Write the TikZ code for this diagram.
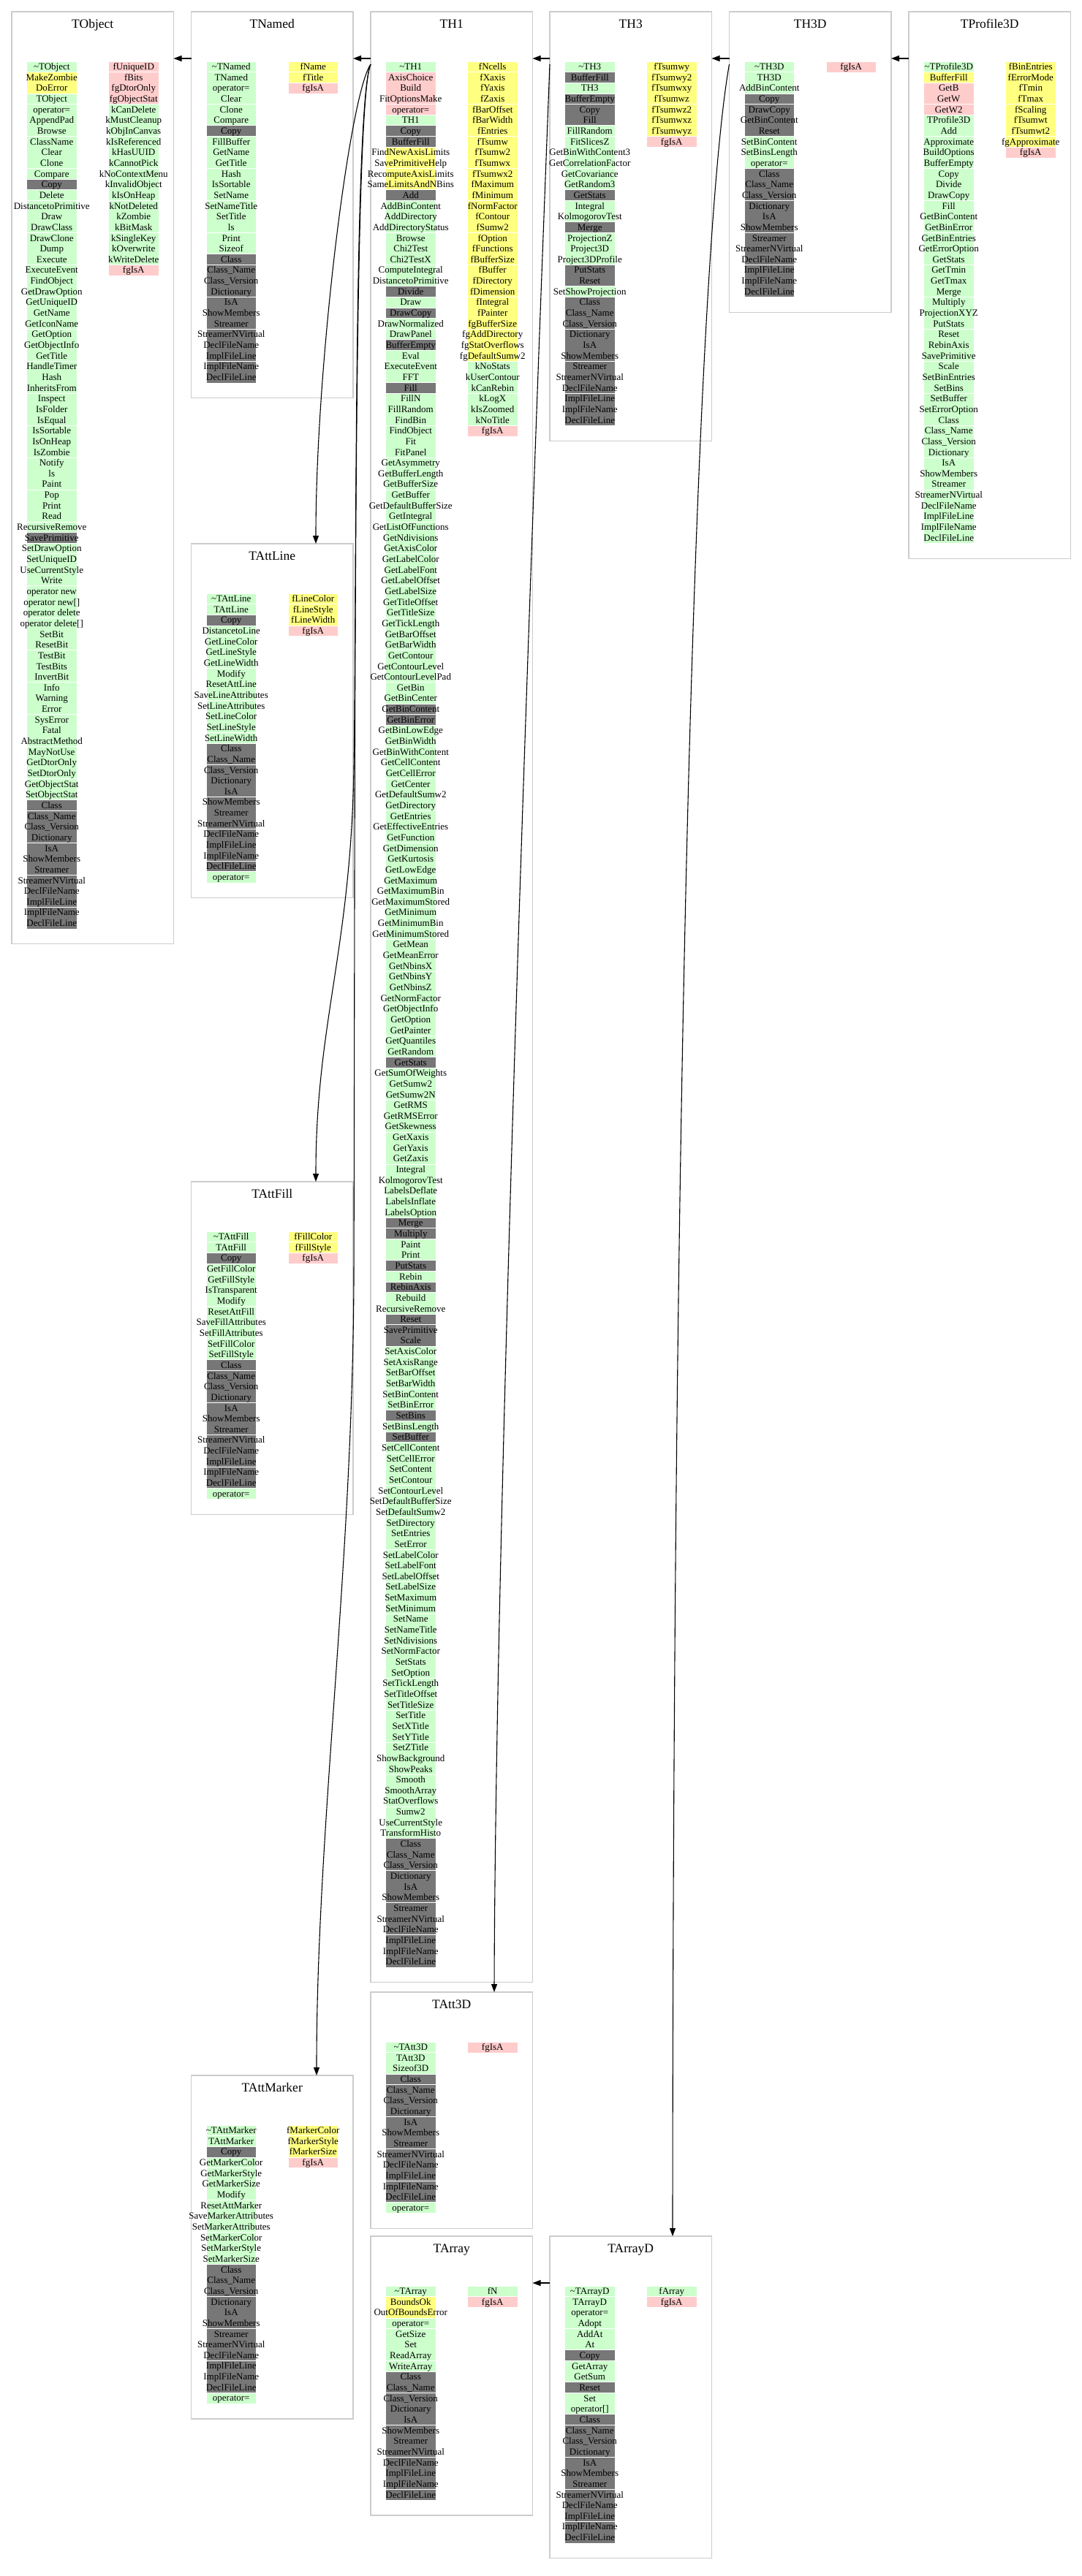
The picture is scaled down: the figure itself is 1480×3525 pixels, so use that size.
\documentclass[tikz,border=0pt]{standalone}
\usepackage{fontspec}
\setmainfont{Liberation Serif}
\usetikzlibrary{arrows.meta}
\definecolor{cg}{HTML}{CCFFCC}
\definecolor{cy}{HTML}{FFFF80}
\definecolor{cp}{HTML}{FFCCCC}
\definecolor{cd}{HTML}{777777}
\definecolor{boxgrey}{HTML}{CCCCCC}
\def\rh{14.65}
\newcommand\tl{\textasciitilde}
\newcommand\mlist[4]{%
  \gdef\prevc{none}%
  \foreach[count=\i] \rc/\rtext in {#4}{%
    \path[fill=c\rc] (#2,{#3+(\i-1)*\rh}) rectangle ({#2+67.5},{#3+\i*\rh});
    \edef\curc{\rc}%
    \ifx\curc\prevc\else
      \draw[sepline] (#2,{#3+(\i-1)*\rh}) -- ({#2+67.5},{#3+(\i-1)*\rh});
    \fi
    \xdef\prevc{\rc}%
    \node[rowtext] (#1-\i) at ({#2+33.75},{#3+(\i-0.5)*\rh}) {\rtext};
  }}
\newcommand\ctail[3]{\mlist{#1}{#2}{#3}{d/Class,d/Class\_Name,d/Class\_Version,d/Dictionary,d/IsA,d/ShowMembers,d/Streamer,d/StreamerNVirtual,d/DeclFileName,d/ImplFileLine,d/ImplFileName,d/DeclFileLine}}
\newcommand\seps[3]{%
  \foreach \k in {1,4,...,#3}{%
    \draw[sepline] (#1,{#2+\k*\rh}) -- ({#1+67.5},{#2+\k*\rh});
  }}
\newcommand\classbox[4]{%
  \pgfmathsetmacro\bh{89+#4*\rh}%
  \pgfmathsetmacro\btop{#3-68}%
  \node[cbox, minimum height=\bh pt, anchor=north west] (#1) at (#2,\btop) {};
  \node[ctitle] (#1-title) at ({#2+110.75},{\btop+17}) {#1};
}
\begin{document}
\begin{tikzpicture}[x=1pt,y=-1pt,
  cbox/.style={draw=boxgrey,line width=1.2pt,fill=white,minimum width=221.5pt,inner sep=0pt,outer sep=0pt},
  ctitle/.style={font=\fontsize{17.5}{18}\selectfont,inner sep=0pt,text height=11.6pt,text depth=0pt},
  rowtext/.style={font=\fontsize{13}{13}\selectfont,inner sep=0pt,text height=8.6pt,text depth=0pt},
  sepline/.style={draw=white,line width=0.9pt},
  inh/.style={draw=black,line width=1.1pt,-{Triangle[length=11pt,width=8pt]}}]
\useasboundingbox (0,0) rectangle (1480,3525);
\fill[white] (0,0) rectangle (1480,3525);

% class boxes
\classbox{TObject}{16}{84}{81}
\classbox{TNamed}{261.5}{84}{30}
\classbox{TH1}{507}{84}{178}
\classbox{TH3}{752}{84}{34}
\classbox{TH3D}{997.5}{84}{22}
\classbox{TProfile3D}{1243}{84}{45}
\classbox{TAttLine}{261.5}{812}{27}
\classbox{TAttFill}{261.5}{1685}{25}
\classbox{TAttMarker}{261.5}{2908}{26}
\classbox{TAtt3D}{507}{2794}{16}
\classbox{TArray}{507}{3128}{20}
\classbox{TArrayD}{752}{3128}{24}

% TObject
\mlist{TObject-m}{37}{84}{g/\tl TObject,y/MakeZombie,y/DoError,g/TObject,g/operator=,g/AppendPad,g/Browse,g/ClassName,g/Clear,g/Clone,g/Compare,d/Copy,g/Delete,g/DistancetoPrimitive,g/Draw,g/DrawClass,g/DrawClone,g/Dump,g/Execute,g/ExecuteEvent,g/FindObject,g/GetDrawOption,g/GetUniqueID,g/GetName,g/GetIconName,g/GetOption,g/GetObjectInfo,g/GetTitle,g/HandleTimer,g/Hash,g/InheritsFrom,g/Inspect,g/IsFolder,g/IsEqual,g/IsSortable,g/IsOnHeap,g/IsZombie,g/Notify,g/ls,g/Paint,g/Pop,g/Print,g/Read,g/RecursiveRemove,d/SavePrimitive,g/SetDrawOption,g/SetUniqueID,g/UseCurrentStyle,g/Write,g/operator new,g/operator new[],g/operator delete,g/operator delete[],g/SetBit,g/ResetBit,g/TestBit,g/TestBits,g/InvertBit,g/Info,g/Warning,g/Error,g/SysError,g/Fatal,g/AbstractMethod,g/MayNotUse,g/GetDtorOnly,g/SetDtorOnly,g/GetObjectStat,g/SetObjectStat}
\ctail{TObject-t}{37}{84+69*\rh}
\mlist{TObject-d}{149}{84}{p/fUniqueID,p/fBits,p/fgDtorOnly,p/fgObjectStat,g/kCanDelete,g/kMustCleanup,g/kObjInCanvas,g/kIsReferenced,g/kHasUUID,g/kCannotPick,g/kNoContextMenu,g/kInvalidObject,g/kIsOnHeap,g/kNotDeleted,g/kZombie,g/kBitMask,g/kSingleKey,g/kOverwrite,g/kWriteDelete,p/fgIsA}
\seps{37}{84}{80}
\seps{149}{84}{19}

% TNamed
\mlist{TNamed-m}{282.5}{84}{g/\tl TNamed,g/TNamed,g/operator=,g/Clear,g/Clone,g/Compare,d/Copy,g/FillBuffer,g/GetName,g/GetTitle,g/Hash,g/IsSortable,g/SetName,g/SetNameTitle,g/SetTitle,g/ls,g/Print,g/Sizeof}
\ctail{TNamed-t}{282.5}{84+18*\rh}
\mlist{TNamed-d}{394.5}{84}{y/fName,y/fTitle,p/fgIsA}
\seps{282.5}{84}{29}
\seps{394.5}{84}{2}

% TH1
\mlist{TH1-m}{528}{84}{g/\tl TH1,p/AxisChoice,p/Build,p/FitOptionsMake,p/operator=,g/TH1,d/Copy,d/BufferFill,y/FindNewAxisLimits,y/SavePrimitiveHelp,y/RecomputeAxisLimits,y/SameLimitsAndNBins,d/Add,g/AddBinContent,g/AddDirectory,g/AddDirectoryStatus,g/Browse,g/Chi2Test,g/Chi2TestX,g/ComputeIntegral,g/DistancetoPrimitive,d/Divide,g/Draw,d/DrawCopy,g/DrawNormalized,g/DrawPanel,d/BufferEmpty,g/Eval,g/ExecuteEvent,g/FFT,d/Fill,g/FillN,g/FillRandom,g/FindBin,g/FindObject,g/Fit,g/FitPanel,g/GetAsymmetry,g/GetBufferLength,g/GetBufferSize,g/GetBuffer,g/GetDefaultBufferSize,g/GetIntegral,g/GetListOfFunctions,g/GetNdivisions,g/GetAxisColor,g/GetLabelColor,g/GetLabelFont,g/GetLabelOffset,g/GetLabelSize,g/GetTitleOffset,g/GetTitleSize,g/GetTickLength,g/GetBarOffset,g/GetBarWidth,g/GetContour,g/GetContourLevel,g/GetContourLevelPad,g/GetBin,g/GetBinCenter,d/GetBinContent,d/GetBinError,g/GetBinLowEdge,g/GetBinWidth,g/GetBinWithContent,g/GetCellContent,g/GetCellError,g/GetCenter,g/GetDefaultSumw2,g/GetDirectory,g/GetEntries,g/GetEffectiveEntries,g/GetFunction,g/GetDimension,g/GetKurtosis,g/GetLowEdge,g/GetMaximum,g/GetMaximumBin,g/GetMaximumStored,g/GetMinimum,g/GetMinimumBin,g/GetMinimumStored,g/GetMean,g/GetMeanError,g/GetNbinsX,g/GetNbinsY,g/GetNbinsZ,g/GetNormFactor,g/GetObjectInfo,g/GetOption,g/GetPainter,g/GetQuantiles,g/GetRandom,d/GetStats,g/GetSumOfWeights,g/GetSumw2,g/GetSumw2N,g/GetRMS,g/GetRMSError,g/GetSkewness,g/GetXaxis,g/GetYaxis,g/GetZaxis,g/Integral,g/KolmogorovTest,g/LabelsDeflate,g/LabelsInflate,g/LabelsOption,d/Merge,d/Multiply,g/Paint,g/Print,d/PutStats,g/Rebin,d/RebinAxis,g/Rebuild,g/RecursiveRemove,d/Reset,d/SavePrimitive,d/Scale,g/SetAxisColor,g/SetAxisRange,g/SetBarOffset,g/SetBarWidth,g/SetBinContent,g/SetBinError,d/SetBins,g/SetBinsLength,d/SetBuffer,g/SetCellContent,g/SetCellError,g/SetContent,g/SetContour,g/SetContourLevel,g/SetDefaultBufferSize,g/SetDefaultSumw2,g/SetDirectory,g/SetEntries,g/SetError,g/SetLabelColor,g/SetLabelFont,g/SetLabelOffset,g/SetLabelSize,g/SetMaximum,g/SetMinimum,g/SetName,g/SetNameTitle,g/SetNdivisions,g/SetNormFactor,g/SetStats,g/SetOption,g/SetTickLength,g/SetTitleOffset,g/SetTitleSize,g/SetTitle,g/SetXTitle,g/SetYTitle,g/SetZTitle,g/ShowBackground,g/ShowPeaks,g/Smooth,g/SmoothArray,g/StatOverflows,g/Sumw2,g/UseCurrentStyle,g/TransformHisto}
\ctail{TH1-t}{528}{84+166*\rh}
\mlist{TH1-d}{640}{84}{y/fNcells,y/fXaxis,y/fYaxis,y/fZaxis,y/fBarOffset,y/fBarWidth,y/fEntries,y/fTsumw,y/fTsumw2,y/fTsumwx,y/fTsumwx2,y/fMaximum,y/fMinimum,y/fNormFactor,y/fContour,y/fSumw2,y/fOption,y/fFunctions,y/fBufferSize,y/fBuffer,y/fDirectory,y/fDimension,y/fIntegral,y/fPainter,y/fgBufferSize,y/fgAddDirectory,y/fgStatOverflows,y/fgDefaultSumw2,g/kNoStats,g/kUserContour,g/kCanRebin,g/kLogX,g/kIsZoomed,g/kNoTitle,p/fgIsA}
\seps{528}{84}{177}
\seps{640}{84}{34}

% TH3
\mlist{TH3-m}{773}{84}{g/\tl TH3,d/BufferFill,g/TH3,d/BufferEmpty,d/Copy,d/Fill,g/FillRandom,g/FitSlicesZ,g/GetBinWithContent3,g/GetCorrelationFactor,g/GetCovariance,g/GetRandom3,d/GetStats,g/Integral,g/KolmogorovTest,d/Merge,g/ProjectionZ,g/Project3D,g/Project3DProfile,d/PutStats,d/Reset,g/SetShowProjection}
\ctail{TH3-t}{773}{84+22*\rh}
\mlist{TH3-d}{885}{84}{y/fTsumwy,y/fTsumwy2,y/fTsumwxy,y/fTsumwz,y/fTsumwz2,y/fTsumwxz,y/fTsumwyz,p/fgIsA}
\seps{773}{84}{33}
\seps{885}{84}{7}

% TH3D
\mlist{TH3D-m}{1018.5}{84}{g/\tl TH3D,g/TH3D,g/AddBinContent,d/Copy,d/DrawCopy,d/GetBinContent,d/Reset,g/SetBinContent,g/SetBinsLength,g/operator=}
\ctail{TH3D-t}{1018.5}{84+10*\rh}
\mlist{TH3D-d}{1130.5}{84}{p/fgIsA}
\seps{1018.5}{84}{21}

% TProfile3D
\mlist{TProfile3D-m}{1264}{84}{g/\tl TProfile3D,y/BufferFill,p/GetB,p/GetW,p/GetW2,g/TProfile3D,g/Add,g/Approximate,g/BuildOptions,g/BufferEmpty,g/Copy,g/Divide,g/DrawCopy,g/Fill,g/GetBinContent,g/GetBinError,g/GetBinEntries,g/GetErrorOption,g/GetStats,g/GetTmin,g/GetTmax,g/Merge,g/Multiply,g/ProjectionXYZ,g/PutStats,g/Reset,g/RebinAxis,g/SavePrimitive,g/Scale,g/SetBinEntries,g/SetBins,g/SetBuffer,g/SetErrorOption,g/Class,g/Class\_Name,g/Class\_Version,g/Dictionary,g/IsA,g/ShowMembers,g/Streamer,g/StreamerNVirtual,g/DeclFileName,g/ImplFileLine,g/ImplFileName,g/DeclFileLine}
\mlist{TProfile3D-d}{1376}{84}{y/fBinEntries,y/fErrorMode,y/fTmin,y/fTmax,y/fScaling,y/fTsumwt,y/fTsumwt2,y/fgApproximate,p/fgIsA}
\seps{1264}{84}{44}
\seps{1376}{84}{8}

% TAttLine
\mlist{TAttLine-m}{282.5}{812}{g/\tl TAttLine,g/TAttLine,d/Copy,g/DistancetoLine,g/GetLineColor,g/GetLineStyle,g/GetLineWidth,g/Modify,g/ResetAttLine,g/SaveLineAttributes,g/SetLineAttributes,g/SetLineColor,g/SetLineStyle,g/SetLineWidth}
\ctail{TAttLine-t}{282.5}{812+14*\rh}
\mlist{TAttLine-o}{282.5}{812+26*\rh}{g/operator=}
\mlist{TAttLine-d}{394.5}{812}{y/fLineColor,y/fLineStyle,y/fLineWidth,p/fgIsA}
\seps{282.5}{812}{26}
\seps{394.5}{812}{3}

% TAttFill
\mlist{TAttFill-m}{282.5}{1685}{g/\tl TAttFill,g/TAttFill,d/Copy,g/GetFillColor,g/GetFillStyle,g/IsTransparent,g/Modify,g/ResetAttFill,g/SaveFillAttributes,g/SetFillAttributes,g/SetFillColor,g/SetFillStyle}
\ctail{TAttFill-t}{282.5}{1685+12*\rh}
\mlist{TAttFill-o}{282.5}{1685+24*\rh}{g/operator=}
\mlist{TAttFill-d}{394.5}{1685}{y/fFillColor,y/fFillStyle,p/fgIsA}
\seps{282.5}{1685}{24}
\seps{394.5}{1685}{2}

% TAttMarker
\mlist{TAttMarker-m}{282.5}{2908}{g/\tl TAttMarker,g/TAttMarker,d/Copy,g/GetMarkerColor,g/GetMarkerStyle,g/GetMarkerSize,g/Modify,g/ResetAttMarker,g/SaveMarkerAttributes,g/SetMarkerAttributes,g/SetMarkerColor,g/SetMarkerStyle,g/SetMarkerSize}
\ctail{TAttMarker-t}{282.5}{2908+13*\rh}
\mlist{TAttMarker-o}{282.5}{2908+25*\rh}{g/operator=}
\mlist{TAttMarker-d}{394.5}{2908}{y/fMarkerColor,y/fMarkerStyle,y/fMarkerSize,p/fgIsA}
\seps{282.5}{2908}{25}
\seps{394.5}{2908}{3}

% TAtt3D
\mlist{TAtt3D-m}{528}{2794}{g/\tl TAtt3D,g/TAtt3D,g/Sizeof3D}
\ctail{TAtt3D-t}{528}{2794+3*\rh}
\mlist{TAtt3D-o}{528}{2794+15*\rh}{g/operator=}
\mlist{TAtt3D-d}{640}{2794}{p/fgIsA}
\seps{528}{2794}{15}

% TArray
\mlist{TArray-m}{528}{3128}{g/\tl TArray,y/BoundsOk,y/OutOfBoundsError,g/operator=,g/GetSize,g/Set,g/ReadArray,g/WriteArray}
\ctail{TArray-t}{528}{3128+8*\rh}
\mlist{TArray-d}{640}{3128}{g/fN,p/fgIsA}
\seps{528}{3128}{19}

% TArrayD
\mlist{TArrayD-m}{773}{3128}{g/\tl TArrayD,g/TArrayD,g/operator=,g/Adopt,g/AddAt,g/At,d/Copy,g/GetArray,g/GetSum,d/Reset,g/Set,g/operator[]}
\ctail{TArrayD-t}{773}{3128+12*\rh}
\mlist{TArrayD-d}{885}{3128}{g/fArray,p/fgIsA}
\seps{773}{3128}{23}

% inheritance connectors
\draw[inh] ([yshift=-64pt]TNamed.north west) -- ([yshift=-64pt]TObject.north east);
\draw[inh] ([yshift=-64pt]TH1.north west) -- ([yshift=-64pt]TNamed.north east);
\draw[inh] ([yshift=-64pt]TH3.north west) -- ([yshift=-64pt]TH1.north east);
\draw[inh] ([yshift=-64pt]TH3D.north west) -- ([yshift=-64pt]TH3.north east);
\draw[inh] ([yshift=-64pt]TProfile3D.north west) -- ([yshift=-64pt]TH3D.north east);
\draw[inh] ([yshift=-64pt]TArrayD.north west) -- ([yshift=-64pt]TArray.north east);
\draw[inh] ([yshift=-72pt]TH1.north west) .. controls (478,130) and (432,500) .. ([xshift=170.5pt]TAttLine.north west);
\draw[inh] ([yshift=-72pt]TH1.north west) .. controls (484,140) and (488,800) .. (484,1050) .. controls (480,1300) and (432,1400) .. ([xshift=170.5pt]TAttFill.north west);
\draw[inh] ([yshift=-72pt]TH1.north west) .. controls (483,140) and (486,1000) .. (484,1750) .. controls (482,2150) and (433,2500) .. ([xshift=171.5pt]TAttMarker.north west);
\draw[inh] ([yshift=-72pt]TH3.north west) .. controls (738,450) and (678,2000) .. ([xshift=169pt]TAtt3D.north west);
\draw[inh] ([yshift=-72pt]TH3D.north west) .. controls (960,300) and (921,1200) .. ([xshift=168pt]TArrayD.north west);
\end{tikzpicture}
\end{document}
